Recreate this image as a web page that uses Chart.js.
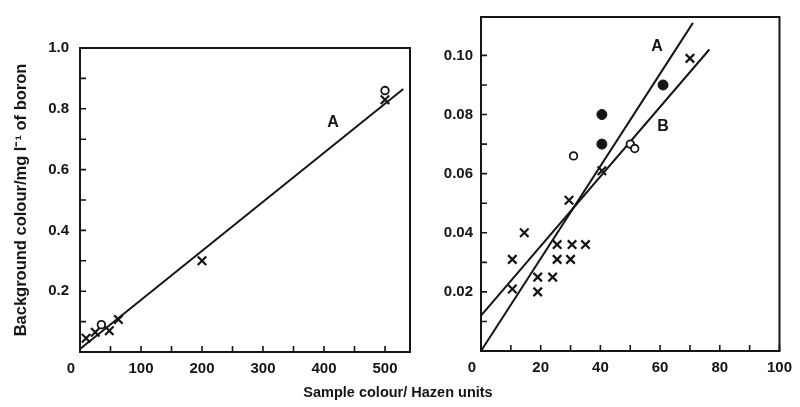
<!DOCTYPE html>
<html><head><meta charset="utf-8">
<script src="https://cdn.jsdelivr.net/npm/chart.js@4/dist/chart.umd.min.js"></script>
<style>
html,body{margin:0;padding:0;background:#fff;}
#wrap{position:relative;width:800px;height:407px;overflow:hidden;background:#fff;}
#wrap canvas{position:absolute;left:0;top:0;}
#xt{position:absolute;left:0;width:796px;top:384px;text-align:center;font:bold 14.5px "Liberation Sans",Arial,sans-serif;color:#151515;}
</style></head><body>
<div id="wrap">
<canvas id="c1" width="800" height="407"></canvas>
<canvas id="c2" width="800" height="407"></canvas>
<div id="xt">Sample colour/ Hazen units</div>
</div>
<script>
// ---------- Left panel data ----------
const leftCrossX = [10, 25, 48, 63, 200, 500];
const leftCrossY = [0.045, 0.065, 0.07, 0.107, 0.30, 0.83];
const leftCircleX = [35, 500];
const leftCircleY = [0.09, 0.86];
const leftLineAX = [0, 530];
const leftLineAY = [0.01, 0.865];
const leftXTicks = [100, 200, 300, 400, 500];
const leftXMinor = [50, 150, 250, 350, 450];
const leftYTicks = [0.2, 0.4, 0.6, 0.8, 1.0];
const leftYMinor = [0.1, 0.3, 0.5, 0.7, 0.9];

// ---------- Right panel data ----------
const rightCrossX = [10.5, 10.5, 14.5, 19, 19, 24, 25.5, 25.5, 30, 30.5, 35, 29.5, 40.5, 70];
const rightCrossY = [0.021, 0.031, 0.040, 0.020, 0.025, 0.025, 0.031, 0.036, 0.031, 0.036, 0.036, 0.051, 0.061, 0.099];
const rightOpenX = [31, 50, 51.5];
const rightOpenY = [0.066, 0.070, 0.0685];
const rightFilledX = [40.5, 40.5, 61];
const rightFilledY = [0.070, 0.080, 0.090];
const rightLineAX = [0, 71];
const rightLineAY = [0, 0.111];
const rightLineBX = [0, 76.5];
const rightLineBY = [0.012, 0.102];
const rightXTicks = [20, 40, 60, 80, 100];
const rightXMinor = [10, 30, 50, 70, 90];
const rightYTicks = [0.02, 0.04, 0.06, 0.08, 0.10];
const rightYMinor = [0.01, 0.03, 0.05, 0.07, 0.09];

const FONT = '"Liberation Sans", Arial, sans-serif';
const INK = '#151515';
const pts = (xs, ys) => xs.map((x, i) => ({x, y: ys[i]}));

const framePlugin = {
  id: 'frame',
  afterDatasetsDraw(chart, args, o) {
    const {ctx, chartArea: a, scales: {x, y}} = chart;
    ctx.save();
    ctx.strokeStyle = INK;
    ctx.lineWidth = 2;
    ctx.strokeRect(a.left, a.top, a.right - a.left, a.bottom - a.top);
    ctx.lineWidth = 1.6;
    const L = 6;
    ctx.beginPath();
    o.xTicks.concat(o.xMinor).forEach(v => {
      const px = x.getPixelForValue(v);
      ctx.moveTo(px, a.bottom); ctx.lineTo(px, a.bottom - L);
    });
    o.yTicks.concat(o.yMinor).forEach(v => {
      const py = y.getPixelForValue(v);
      ctx.moveTo(a.left, py); ctx.lineTo(a.left + L, py);
    });
    ctx.stroke();
    ctx.fillStyle = INK;
    ctx.font = 'bold 15px ' + FONT;
    ctx.textAlign = 'center';
    ctx.textBaseline = 'top';
    ctx.fillText('0', a.left - 9, a.bottom + 9);
    ctx.font = 'bold 16px ' + FONT;
    ctx.textBaseline = 'middle';
    o.labels.forEach(l => ctx.fillText(l.t, x.getPixelForValue(l.x), y.getPixelForValue(l.y)));
    ctx.restore();
  }
};

function makeChart(id, cfg) {
  const tickFont = {family: FONT, size: 15, weight: 'bold'};
  return new Chart(document.getElementById(id), {
    type: 'scatter',
    data: {datasets: cfg.datasets},
    options: {
      responsive: false,
      animation: false,
      layout: {padding: cfg.padding},
      plugins: {legend: {display: false}, tooltip: {enabled: false}, frame: cfg.frame},
      scales: {
        x: {
          type: 'linear', min: cfg.xMin, max: cfg.xMax,
          grid: {display: false, drawTicks: false, tickLength: 0}, border: {display: false},
          afterBuildTicks: s => { s.ticks = cfg.frame.xTicks.map(v => ({value: v})); },
          afterFit: s => { s.height = cfg.xHeight; },
          ticks: {font: tickFont, color: INK, padding: 8, maxRotation: 0, autoSkip: false,
                  callback: v => String(v)}
        },
        y: {
          type: 'linear', min: cfg.yMin, max: cfg.yMax,
          grid: {display: false, drawTicks: false, tickLength: 0}, border: {display: false},
          afterBuildTicks: s => { s.ticks = cfg.frame.yTicks.map(v => ({value: v})); },
          afterFit: s => { s.width = cfg.yWidth; },
          ticks: {font: tickFont, color: INK, padding: cfg.yPad, autoSkip: false,
                  callback: v => v.toFixed(cfg.yDec)},
          title: cfg.yTitle
        }
      }
    },
    plugins: [framePlugin]
  });
}

const crossStyle = {pointStyle: 'crossRot', pointRadius: 6, pointBorderWidth: 2.2, borderColor: INK, backgroundColor: INK, order: 1};
const openStyle = {pointStyle: 'circle', pointRadius: 3.8, pointBorderWidth: 1.8, borderColor: INK, backgroundColor: '#fff', order: 0};
const filledStyle = {pointStyle: 'circle', pointRadius: 5, pointBorderWidth: 1, borderColor: INK, backgroundColor: INK, order: 0};
const lineStyle = {showLine: true, pointRadius: 0, borderWidth: 2, borderColor: INK, order: 3, clip: false};

makeChart('c1', {
  padding: {left: 0, top: 48, right: 390, bottom: 0},
  xMin: 0, xMax: 541, yMin: 0, yMax: 1.0,
  xHeight: 55, yWidth: 80, yPad: 11, yDec: 1,
  yTitle: {display: true, text: 'Background colour/mg l\u207B\u00B9 of boron',
           font: {family: FONT, size: 16.5, weight: 'bold'}, color: INK, padding: {top: 12, bottom: 0}},
  datasets: [
    Object.assign({data: pts(leftLineAX, leftLineAY)}, lineStyle),
    Object.assign({data: pts(leftCrossX, leftCrossY)}, crossStyle),
    Object.assign({data: pts(leftCircleX, leftCircleY)}, openStyle)
  ],
  frame: {xTicks: leftXTicks, xMinor: leftXMinor, yTicks: leftYTicks, yMinor: leftYMinor,
          labels: [{t: 'A', x: 415, y: 0.755}]}
});

makeChart('c2', {
  padding: {left: 0, top: 12, right: 13, bottom: 0},
  xMin: 0, xMax: 100, yMin: 0, yMax: 0.113,
  xHeight: 56, yWidth: 481, yPad: 8, yDec: 2,
  yTitle: {display: false},
  datasets: [
    Object.assign({data: pts(rightLineAX, rightLineAY)}, lineStyle),
    Object.assign({data: pts(rightLineBX, rightLineBY)}, lineStyle),
    Object.assign({data: pts(rightCrossX, rightCrossY)}, crossStyle),
    Object.assign({data: pts(rightOpenX, rightOpenY)}, openStyle),
    Object.assign({data: pts(rightFilledX, rightFilledY)}, filledStyle)
  ],
  frame: {xTicks: rightXTicks, xMinor: rightXMinor, yTicks: rightYTicks, yMinor: rightYMinor,
          labels: [{t: 'A', x: 59, y: 0.103}, {t: 'B', x: 61, y: 0.0759}]}
});
</script>
</body></html>
